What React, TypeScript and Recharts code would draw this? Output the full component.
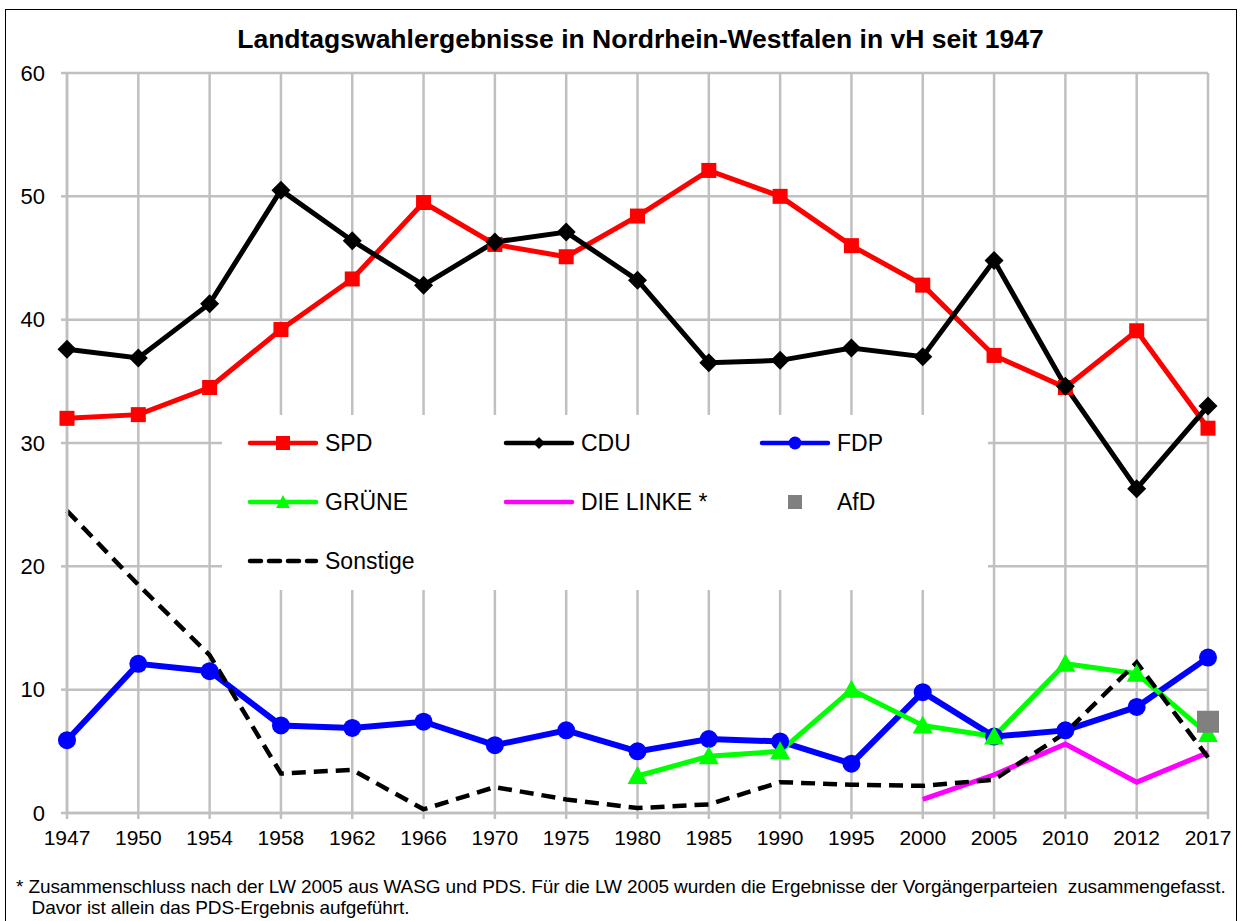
import { LineChart, Line, XAxis, YAxis, CartesianGrid, Legend } from 'recharts';

// Wahljahre (Kategorien)
const years = ['1947', '1950', '1954', '1958', '1962', '1966', '1970', '1975', '1980', '1985', '1990', '1995', '2000', '2005', '2010', '2012', '2017'];

// Ergebnisse in vH
const spd = [32.0, 32.3, 34.5, 39.2, 43.3, 49.5, 46.1, 45.1, 48.4, 52.1, 50.0, 46.0, 42.8, 37.1, 34.5, 39.1, 31.2];
const cdu = [37.6, 36.9, 41.3, 50.5, 46.4, 42.8, 46.3, 47.1, 43.2, 36.5, 36.7, 37.7, 37.0, 44.8, 34.6, 26.3, 33.0];
const fdp = [5.9, 12.1, 11.5, 7.1, 6.9, 7.4, 5.5, 6.7, 5.0, 6.0, 5.8, 4.0, 9.8, 6.2, 6.7, 8.6, 12.6];
const gruene = [null, null, null, null, null, null, null, null, 3.0, 4.6, 5.0, 10.0, 7.1, 6.2, 12.1, 11.3, 6.4];
const linke = [null, null, null, null, null, null, null, null, null, null, null, null, 1.1, 3.1, 5.6, 2.5, 4.9];
const afd = [null, null, null, null, null, null, null, null, null, null, null, null, null, null, null, null, 7.4];
const sonstige = [24.5, 18.5, 12.8, 3.2, 3.5, 0.3, 2.1, 1.1, 0.4, 0.7, 2.5, 2.3, 2.2, 2.7, 6.5, 12.2, 4.5];

const yTicks = [0, 10, 20, 30, 40, 50, 60];

const title = 'Landtagswahlergebnisse in Nordrhein-Westfalen in vH seit 1947';
const footnote1 = '* Zusammenschluss nach der LW 2005 aus WASG und PDS. Für die LW 2005 wurden die Ergebnisse der Vorgängerparteien  zusammengefasst.';
const footnote2 = 'Davor ist allein das PDS-Ergebnis aufgeführt.';

const data = years.map((year, i) => ({
  year,
  SPD: spd[i],
  CDU: cdu[i],
  FDP: fdp[i],
  GRUENE: gruene[i],
  LINKE: linke[i],
  AfD: afd[i],
  Sonstige: sonstige[i],
}));

const FONT = '"Liberation Sans", Arial, sans-serif';
const GRID = '#c0c0c0';

// --- Marker ---------------------------------------------------------------

type DotProps = { cx?: number | null; cy?: number | null; index?: number };

const squareDot = (size: number, color: string, id: string) => (p: DotProps) => {
  if (p.cx == null || p.cy == null) return <g key={`${id}-${p.index}`} />;
  return <rect key={`${id}-${p.index}`} x={p.cx - size / 2} y={p.cy - size / 2} width={size} height={size} fill={color} />;
};

const diamondDot = (size: number, color: string, id: string) => (p: DotProps) => {
  if (p.cx == null || p.cy == null) return <g key={`${id}-${p.index}`} />;
  const h = size / 2;
  const { cx, cy } = p;
  return <path key={`${id}-${p.index}`} d={`M${cx},${cy - h}L${cx + h},${cy}L${cx},${cy + h}L${cx - h},${cy}Z`} fill={color} />;
};

const circleDot = (r: number, color: string, id: string) => (p: DotProps) => {
  if (p.cx == null || p.cy == null) return <g key={`${id}-${p.index}`} />;
  return <circle key={`${id}-${p.index}`} cx={p.cx} cy={p.cy} r={r} fill={color} />;
};

const triangleDot = (size: number, color: string, id: string) => (p: DotProps) => {
  if (p.cx == null || p.cy == null) return <g key={`${id}-${p.index}`} />;
  const h = size / 2;
  const { cx, cy } = p;
  return <path key={`${id}-${p.index}`} d={`M${cx},${cy - h}L${cx + h},${cy + h * 0.8}L${cx - h},${cy + h * 0.8}Z`} fill={color} />;
};

// --- Legende --------------------------------------------------------------

const legendItems = [
  { label: 'SPD', col: 0, row: 0, color: '#ff0000', marker: 'square' },
  { label: 'CDU', col: 1, row: 0, color: '#000000', marker: 'diamond' },
  { label: 'FDP', col: 2, row: 0, color: '#0000ff', marker: 'circle' },
  { label: 'GRÜNE', col: 0, row: 1, color: '#00ff00', marker: 'triangle' },
  { label: 'DIE LINKE *', col: 1, row: 1, color: '#ff00ff', marker: 'none' },
  { label: 'AfD', col: 2, row: 1, color: '#808080', marker: 'only' },
  { label: 'Sonstige', col: 0, row: 2, color: '#000000', marker: 'dash' },
];

function LegendSymbol({ color, marker }: { color: string; marker: string }) {
  const w = 72;
  const c = 36;
  return (
    <svg width={w} height={20} style={{ display: 'block' }}>
      {marker !== 'only' && (
        <line
          x1={3} y1={10} x2={w - 3} y2={10}
          stroke={color} strokeWidth={4.5} strokeLinecap="round"
          strokeDasharray={marker === 'dash' ? '11 8' : undefined}
        />
      )}
      {marker === 'square' && <rect x={c - 7} y={3} width={14} height={14} fill={color} />}
      {marker === 'diamond' && <path d={`M${c},4L${c + 6},10L${c},16L${c - 6},10Z`} fill={color} />}
      {marker === 'circle' && <circle cx={c} cy={10} r={6.5} fill={color} />}
      {marker === 'triangle' && <path d={`M${c},3L${c + 7},16L${c - 7},16Z`} fill={color} />}
      {marker === 'only' && <rect x={c - 7} y={3} width={14} height={14} fill={color} />}
    </svg>
  );
}

function ChartLegend() {
  return (
    <div style={{ position: 'relative', width: 766, height: 175, background: '#fff', fontFamily: FONT }}>
      {legendItems.map((it) => (
        <div
          key={it.label}
          style={{ position: 'absolute', left: 25 + it.col * 256, top: 28 + it.row * 59 - 10, display: 'flex', alignItems: 'center', height: 20 }}
        >
          <LegendSymbol color={it.color} marker={it.marker} />
          <span style={{ fontSize: 23, color: '#000', marginLeft: 6, whiteSpace: 'nowrap' }}>{it.label}</span>
        </div>
      ))}
    </div>
  );
}

export default function App() {
  return (
    <div style={{ position: 'absolute', left: 0, top: 0, width: 1245, height: 921, background: '#fff', overflow: 'hidden', fontFamily: FONT }}>
      <div style={{ position: 'absolute', left: 5, top: 9, width: 1232, height: 930, border: '1.5px solid #000', boxSizing: 'border-box' }} />
      <div style={{ position: 'absolute', left: 0, width: 1281, top: 25, textAlign: 'center', fontSize: 26.5, fontWeight: 'bold', lineHeight: '28px', color: '#000' }}>
        {title}
      </div>
      <div style={{ position: 'absolute', left: 0, top: 0 }}>
        <LineChart width={1245} height={921} data={data} margin={{ top: 73, right: 37, bottom: 68, left: 0 }}>
          <CartesianGrid stroke={GRID} strokeWidth={2.5} />
          <XAxis
            dataKey="year"
            interval={0}
            height={40}
            axisLine={{ stroke: GRID, strokeWidth: 2.5 }}
            tickLine={{ stroke: GRID, strokeWidth: 2.5 }}
            tickSize={6}
            tickMargin={11}
            tick={{ fontSize: 21, fill: '#000', fontFamily: FONT }}
          />
          <YAxis
            width={67}
            domain={[0, 60]}
            ticks={yTicks}
            interval={0}
            axisLine={{ stroke: GRID, strokeWidth: 2.5 }}
            tickLine={{ stroke: GRID, strokeWidth: 2.5 }}
            tickSize={6}
            tickMargin={16}
            tick={{ fontSize: 22, fill: '#000', fontFamily: FONT }}
          />
          <Legend
            layout="horizontal"
            verticalAlign="middle"
            align="center"
            wrapperStyle={{ left: 222, top: 415, width: 766, height: 175 }}
            content={() => <ChartLegend />}
          />
          <Line dataKey="SPD" stroke="#ff0000" strokeWidth={5} dot={squareDot(15, '#ff0000', 'spd')} isAnimationActive={false} />
          <Line dataKey="CDU" stroke="#000000" strokeWidth={5} dot={diamondDot(19, '#000000', 'cdu')} isAnimationActive={false} />
          <Line dataKey="FDP" stroke="#0000ff" strokeWidth={6} dot={circleDot(9, '#0000ff', 'fdp')} isAnimationActive={false} />
          <Line dataKey="GRUENE" stroke="#00ff00" strokeWidth={5} dot={triangleDot(20, '#00ff00', 'gr')} isAnimationActive={false} />
          <Line dataKey="LINKE" stroke="#ff00ff" strokeWidth={5} dot={false} isAnimationActive={false} />
          <Line dataKey="AfD" stroke="none" strokeWidth={0} dot={squareDot(22, '#808080', 'afd')} isAnimationActive={false} />
          <Line dataKey="Sonstige" stroke="#000000" strokeWidth={4.5} strokeDasharray="14 8" dot={false} isAnimationActive={false} />
        </LineChart>
      </div>
      <div style={{ position: 'absolute', left: 16, top: 876, fontSize: 19, lineHeight: '21px', color: '#000', whiteSpace: 'pre', letterSpacing: -0.1 }}>
        {footnote1}
        {'\n   '}
        {footnote2}
      </div>
    </div>
  );
}
